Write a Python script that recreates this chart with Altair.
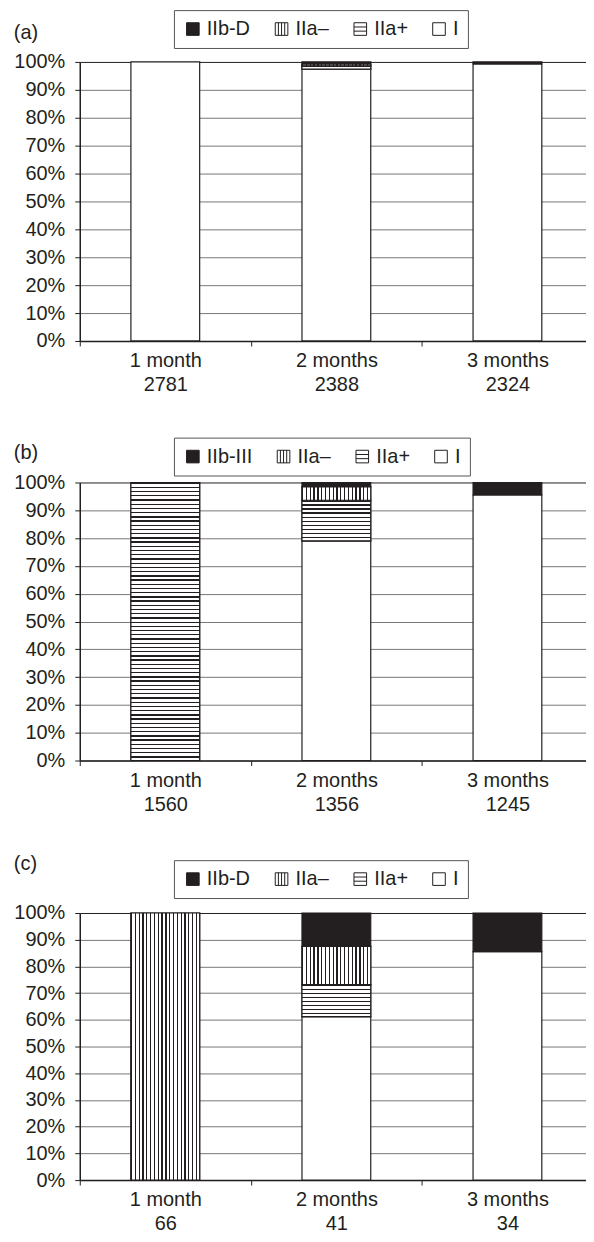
import altair as alt
import pandas as pd

DARK = "#231f20"
FONT = "Liberation Sans"

periods = ["1 month", "2 months", "3 months"]

# patients per period
n_a = [2781, 2388, 2324]
n_b = [1560, 1356, 1245]
n_c = [66, 41, 34]

# percentages
a_I = [100.0, 97.4, 99.3]
a_IIap = [0.0, 1.2, 0.0]
a_IIam = [0.0, 0.6, 0.0]
a_IIb = [0.0, 0.8, 0.7]

b_I = [0.0, 79.0, 95.5]
b_IIap = [100.0, 14.6, 0.0]
b_IIam = [0.0, 4.8, 0.0]
b_IIb = [0.0, 1.6, 4.5]

c_I = [0.0, 61.2, 85.5]
c_IIap = [0.0, 12.0, 0.0]
c_IIam = [100.0, 14.3, 0.0]
c_IIb = [0.0, 12.5, 14.5]

top_labels = ["IIb-D", "IIb-III", "IIb-D"]

PLOT_W = 515
BAR_W = 69


def make_df(ns, I, IIap, IIam, IIb, top):
    rows = []
    for k, p in enumerate(periods):
        cat = f"{p}|{ns[k]}"
        for order, (s, vals) in enumerate([("I", I), ("IIa+", IIap), ("IIa–", IIam), (top, IIb)]):
            rows.append({"cat": cat, "stratum": s, "order": order, "value": vals[k]})
    return pd.DataFrame(rows)


def stripes(n, frac, vertical_lines):
    stops = []
    for i in range(n):
        a = i / n
        b = (i + frac) / n
        c = (i + 1) / n
        stops += [
            alt.GradientStop(offset=a, color=DARK),
            alt.GradientStop(offset=b, color=DARK),
            alt.GradientStop(offset=b, color="white"),
            alt.GradientStop(offset=c, color="white"),
        ]
    if vertical_lines:
        return alt.LinearGradient(gradient="linear", stops=stops, x1=0, x2=1, y1=0, y2=0)
    return alt.LinearGradient(gradient="linear", stops=stops, x1=0, x2=0, y1=0, y2=1)


V_PATH = "M-1,-1H1V1H-1Z M-0.5,-1V1 M0,-1V1 M0.5,-1V1"
H_PATH = "M-1,-1H1V1H-1Z M-1,-0.33H1 M-1,0.33H1"


def panel(df, top, H, legend_y, title_text, title_dy):
    cats = list(dict.fromkeys(df["cat"]))
    leg_domain = [top, "IIa–", "IIa+", "I"]
    x = alt.X(
        "cat:N",
        sort=cats,
        scale=alt.Scale(paddingInner=0, paddingOuter=0),
        axis=alt.Axis(
            title=None, labelAngle=0, labelExpr="split(datum.label, '|')",
            labelLineHeight=24, labelPadding=5, tickSize=5, tickBand="extent",
            domainColor=DARK, domainWidth=1.5, tickColor=DARK, tickWidth=1, grid=False,
        ),
    )
    y = alt.Y(
        "y0:Q",
        scale=alt.Scale(domain=[0, 100], nice=False),
        axis=alt.Axis(
            title=None, values=list(range(0, 101, 10)), labelExpr="datum.value + '%'",
            grid=True,
            gridColor={"condition": {"test": "datum.value === 100", "value": DARK}, "value": "#777777"},
            gridWidth=1, tickSize=5, labelPadding=10, domainColor=DARK, domainWidth=1.5,
            tickColor=DARK,
        ),
    )
    base = alt.Chart(df).transform_stack(
        stack="value", groupby=["cat"], sort=[alt.SortField("order", "ascending")], as_=["y0", "y1"]
    ).transform_filter("datum.value > 0")

    bars = base.mark_bar(size=BAR_W, stroke=DARK, strokeWidth=1.2).encode(
        x=x, y=y, y2="y1:Q",
        fill=alt.condition(f"datum.stratum === '{top}'", alt.value(DARK), alt.value("white")),
    )
    layers = [bars]
    for _, r in df.iterrows():
        if r["value"] <= 0 or r["stratum"] not in ("IIa+", "IIa–"):
            continue
        if r["stratum"] == "IIa–":
            grad = stripes(18, 0.33, True)
        else:
            n = max(1, round(r["value"] / 100 * H / 4.2))
            grad = stripes(n, 0.32, False)
        layers.append(
            base.transform_filter(
                f"datum.cat === '{r['cat']}' && datum.stratum === '{r['stratum']}'"
            ).mark_bar(size=BAR_W, stroke=DARK, strokeWidth=1.2, fill=grad).encode(
                x=x, y=y, y2="y1:Q"
            )
        )
    leg = alt.Legend(
        title=None, orient="none", legendX=94.5, legendY=legend_y, direction="horizontal",
        columns=4, columnPadding=21, padding=9, strokeColor="#555555", fillColor="white",
        symbolSize=160, symbolStrokeWidth=1, symbolOpacity=1,
        labelFontSize=20, labelFont=FONT, labelColor=DARK, labelOffset=4,
    )
    legend_layer = alt.Chart(df).transform_filter("false").mark_point(
        filled=True, opacity=1, strokeWidth=1
    ).encode(
        fill=alt.Fill("stratum:N", scale=alt.Scale(domain=leg_domain, range=[DARK, "white", "white", "white"]), legend=leg),
        stroke=alt.Stroke("stratum:N", scale=alt.Scale(domain=leg_domain, range=[DARK, DARK, DARK, DARK]), legend=leg),
        shape=alt.Shape("stratum:N", scale=alt.Scale(domain=leg_domain, range=["square", V_PATH, H_PATH, "square"]), legend=leg),
    )
    layers.append(legend_layer)
    return alt.layer(*layers).properties(
        width=PLOT_W, height=H,
        title=alt.TitleParams(
            title_text, anchor="start", frame="bounds", fontSize=20, font=FONT,
            fontWeight="normal", color=DARK, offset=0, dy=title_dy,
        ),
    )


df_a = make_df(n_a, a_I, a_IIap, a_IIam, a_IIb, top_labels[0])
df_b = make_df(n_b, b_I, b_IIap, b_IIam, b_IIb, top_labels[1])
df_c = make_df(n_c, c_I, c_IIap, c_IIam, c_IIb, top_labels[2])

pa = panel(df_a, top_labels[0], 280, -52, "(a)", 33)
pb = panel(df_b, top_labels[1], 279, -45, "(b)", 26)
pc = panel(df_c, top_labels[2], 268, -53, "(c)", 14)

inner = alt.vconcat(pb, pc, spacing=153, bounds="flush").resolve_scale(
    fill="independent", shape="independent", stroke="independent"
).resolve_legend(fill="independent", shape="independent", stroke="independent")
chart = alt.vconcat(pa, inner, spacing=142, bounds="flush").resolve_scale(
    fill="independent", shape="independent", stroke="independent"
).resolve_legend(fill="independent", shape="independent", stroke="independent").properties(
    padding={"left": 5, "top": -1, "right": -8, "bottom": -1}
).configure_view(stroke=None).configure_axis(
    labelFont=FONT, labelFontSize=20, labelColor=DARK
)

chart.save("out.html", embed_options={"renderer": "svg", "actions": False})
